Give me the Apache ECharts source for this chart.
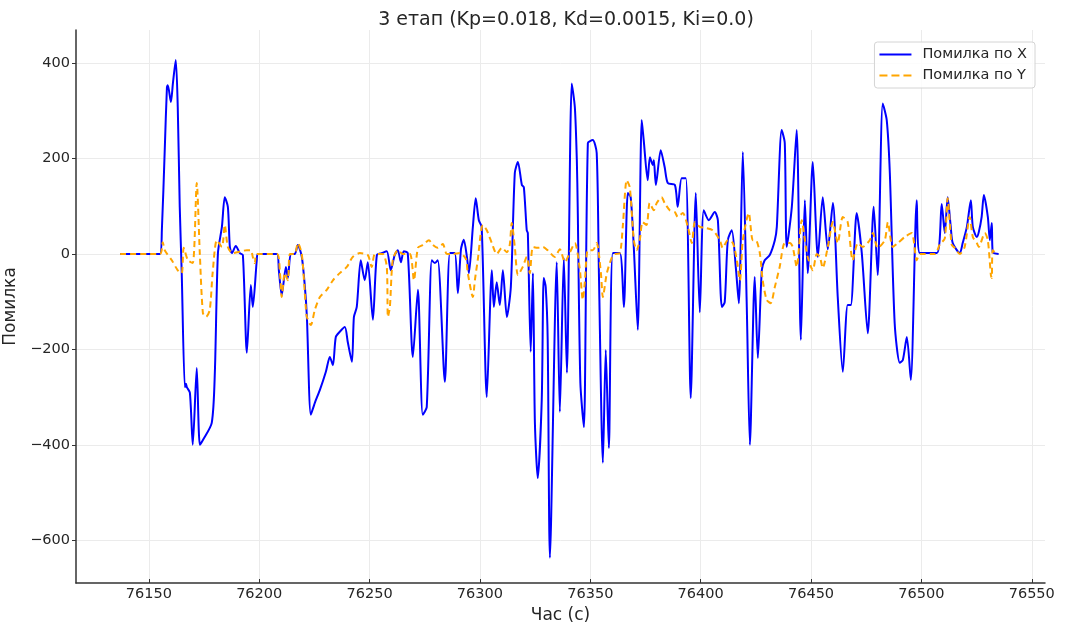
<!DOCTYPE html>
<html>
<head>
<meta charset="utf-8">
<script src="https://cdn.jsdelivr.net/npm/echarts@6/dist/echarts.min.js"></script>
<style>
  html, body { margin: 0; padding: 0; background: #fff; }
  #chart { width: 1071px; height: 626px; }
</style>
</head>
<body>
<div id="chart"></div>
<script>
// Stage 3 PID run: tracking error along X and Y over time
const titleText = '3 етап (Kp=0.018, Kd=0.0015, Ki=0.0)';
const seriesNames = ['Помилка по X', 'Помилка по Y'];

const xTicks = [76150, 76200, 76250, 76300, 76350, 76400, 76450, 76500, 76550];
const yTicks = [-600, -400, -200, 0, 200, 400];

// Error along X
const errXTime = [
  76137, 76155.0, 76155.9, 76157.2, 76158.2, 76158.6, 76160.0, 76160.9, 76162.2, 76163.1,
  76164.0, 76164.9, 76166.3, 76166.8, 76167.2, 76168.6, 76169.9, 76171.7, 76173.1, 76174.5,
  76178.5, 76179.9, 76181.3, 76183.1, 76184.4, 76185.8, 76186.7, 76187.6, 76189.4, 76191.2,
  76192.6, 76194.4, 76196.2, 76197.1, 76198.9, 76199.4, 76208.0, 76208.9, 76210.2, 76212.1,
  76213.0, 76214.3, 76216.1, 76217.5, 76219.3, 76220.7, 76221.6, 76223.4, 76225.2, 76227.5,
  76230.2, 76232.0, 76233.4, 76234.7, 76236.5, 76238.8, 76240.1, 76242.0, 76242.9, 76244.2,
  76246.0, 76247.8, 76249.2, 76251.5, 76253.3, 76255.5, 76257.8, 76259.6, 76261.4, 76262.8,
  76264.2, 76265.5, 76267.3, 76269.6, 76271.9, 76274.1, 76275.9, 76278.2, 76279.6, 76280.9,
  76284.1, 76286.4, 76288.6, 76290.0, 76291.4, 76292.7, 76294.1, 76295.0, 76296.8, 76298.1,
  76299.5, 76300.8, 76303.1, 76305.4, 76306.3, 76307.6, 76309.0, 76310.4, 76312.2, 76314.0,
  76315.8, 76317.2, 76319.0, 76319.9, 76321.2, 76321.7, 76323.0, 76324.0, 76324.9, 76326.2,
  76328.0, 76328.9, 76329.8, 76330.7, 76331.7, 76334.8, 76336.2, 76338.0, 76339.4, 76341.6,
  76343.0, 76343.9, 76344.3, 76345.5, 76347.1, 76348.9, 76351.1, 76352.9, 76353.9, 76355.7,
  76357.0, 76358.4, 76360.2, 76363.4, 76365.2, 76367.0, 76368.3, 76369.7, 76371.5, 76373.3,
  76374.2, 76376.0, 76377.0, 76378.3, 76378.8, 76379.7, 76381.9, 76383.7, 76385.1, 76388.3,
  76389.6, 76391.4, 76393.3, 76395.5, 76397.8, 76399.6, 76401.4, 76403.7, 76406.4, 76407.8,
  76409.6, 76410.9, 76412.3, 76414.1, 76415.9, 76417.3, 76419.1, 76420.9, 76422.3, 76424.5,
  76425.9, 76427.7, 76429.0, 76431.3, 76433.6, 76434.5, 76436.7, 76438.1, 76439.0, 76441.3,
  76443.5, 76445.4, 76447.2, 76448.5, 76450.8, 76453.1, 76455.3, 76457.6, 76459.9, 76462.1,
  76464.4, 76466.6, 76468.0, 76470.7, 76473.0, 76475.7, 76478.4, 76480.2, 76482.5, 76484.3,
  76485.7, 76487.9, 76490.2, 76491.6, 76493.4, 76495.2, 76497.9, 76499.3, 76507.0, 76509.2,
  76510.6, 76511.9, 76513.3, 76514.2, 76517.4, 76518.7, 76520.6, 76522.4, 76523.3, 76525.1,
  76526.0, 76527.3, 76528.3, 76530.1, 76531.0, 76531.9, 76532.3, 76535.0
];
const errXValue = [
  0, 0, 50, 218, 350, 354, 319, 358, 407, 308,
  99, -40, -279, -272, -279, -291, -400, -239, -400, -390,
  -354, -249, 2, 57, 119, 99, 15, 2, 17, 2,
  -2, -207, -65, -111, -13, 0, 0, -34, -86, -27,
  -50, 0, 0, 19, -6, -69, -132, -337, -312, -285,
  -247, -216, -233, -174, -163, -153, -184, -226, -132, -111,
  -13, -55, -17, -138, -2, 2, 6, -34, -2, 8,
  -17, 6, 2, -216, -75, -337, -321, -13, -19, -13,
  -268, 2, 2, -82, 10, 30, -6, -40, 57, 117,
  71, 57, -300, -34, -111, -59, -107, -34, -132, -69,
  170, 193, 145, 140, 50, 44, -205, -40, -354, -470,
  -306, -50, -69, -180, -637, -17, -331, -8, -249, 358,
  308, 197, 99, -270, -363, 233, 239, 212, -40, -438,
  -201, -407, 2, 2, -111, 128, 119, 15, -159, 281,
  239, 155, 203, 187, 197, 145, 218, 182, 149, 145,
  99, 159, 159, -302, 128, -122, 92, 71, 88, 71,
  -111, -101, 29, 50, -27, -103, 214, -111, -400, -48,
  -218, -34, -13, -2, 29, 57, 260, 233, 15, 99,
  260, -180, 113, -40, 193, -6, 119, 10, 107, -90,
  -247, -107, -107, 86, 2, -166, 99, -44, 316, 281,
  170, -145, -228, -222, -174, -264, 113, 2, 2, 105,
  44, 119, 57, 23, 2, 23, 57, 113, 57, 36,
  46, 78, 124, 78, 29, 65, 4, 0
];

// Error along Y
const errYTime = [
  76137, 76155.0, 76156.3, 76157.2, 76160.4, 76163.1, 76164.9, 76165.8, 76167.7, 76169.9,
  76171.7, 76173.1, 76174.5, 76175.9, 76177.6, 76178.9, 76180.8, 76183.1, 76184.4, 76185.8,
  76188.0, 76194.4, 76196.2, 76197.1, 76198.0, 76198.9, 76208.0, 76209.4, 76210.2, 76211.6,
  76213.0, 76213.9, 76216.1, 76217.5, 76219.3, 76221.1, 76221.6, 76223.4, 76225.2, 76227.5,
  76230.6, 76233.4, 76236.5, 76239.7, 76242.4, 76245.6, 76249.2, 76251.0, 76252.4, 76256.0,
  76257.8, 76258.3, 76259.2, 76260.5, 76262.8, 76265.1, 76268.3, 76270.1, 76271.9, 76274.1,
  76276.9, 76278.7, 76280.9, 76283.2, 76285.0, 76287.7, 76290.9, 76293.6, 76294.5, 76296.8,
  76297.7, 76299.0, 76301.3, 76303.1, 76305.4, 76307.6, 76309.9, 76312.2, 76313.5, 76314.4,
  76315.8, 76317.2, 76319.4, 76321.2, 76322.6, 76324.0, 76326.2, 76328.5, 76330.7, 76333.9,
  76336.2, 76338.5, 76340.8, 76343.0, 76345.2, 76346.6, 76347.5, 76348.9, 76351.1, 76352.9,
  76354.8, 76355.7, 76357.5, 76359.7, 76361.1, 76363.4, 76364.7, 76366.5, 76367.9, 76369.7,
  76371.0, 76372.4, 76373.7, 76375.5, 76376.9, 76378.8, 76380.1, 76382.3, 76383.7, 76386.0,
  76388.3, 76389.6, 76391.9, 76394.2, 76396.0, 76397.4, 76399.6, 76401.9, 76405.5, 76408.7,
  76410.0, 76412.3, 76414.6, 76416.4, 76417.8, 76419.1, 76421.8, 76423.6, 76425.0, 76426.8,
  76428.1, 76429.9, 76431.7, 76433.6, 76435.8, 76438.1, 76440.4, 76441.7, 76443.5, 76445.8,
  76447.2, 76448.5, 76450.8, 76452.6, 76454.0, 76455.3, 76457.6, 76459.9, 76462.1, 76464.4,
  76466.6, 76468.9, 76471.2, 76473.4, 76476.6, 76478.0, 76480.2, 76483.4, 76484.8, 76487.0,
  76489.3, 76492.5, 76495.6, 76497.9, 76499.3, 76506.1, 76508.3, 76510.6, 76511.9, 76513.7,
  76515.1, 76517.4, 76519.6, 76521.9, 76523.3, 76525.1, 76526.0, 76528.7, 76530.1, 76531.5,
  76531.9, 76532.3, 76534.1
];
const errYValue = [
  0, 0, 25, 8, -13, -34, -40, 13, -13, -19,
  149, 0, -124, -132, -117, -40, 29, 15, 61, 15,
  2, 8, 8, -6, -19, 0, 0, -40, -90, -40,
  -55, 0, 0, 23, 0, -111, -132, -149, -117, -90,
  -75, -55, -40, -27, -6, 2, -2, -27, 0, 0,
  -27, -132, -111, -13, 8, 0, 0, -55, 13, 19,
  29, 19, 13, 21, 0, 0, 2, -10, -40, -90,
  -55, -13, 61, 50, 23, 0, 13, 4, 19, 65,
  15, -44, -27, -6, -40, 15, 13, 15, 8, -6,
  10, -17, 4, 23, -30, -96, -60, 8, 8, 23,
  -40, -90, -40, -8, 0, 2, 57, 155, 140, 29,
  8, 29, 67, 61, 107, 92, 107, 119, 107, 92,
  88, 78, 86, 57, 23, 67, 57, 55, 50, 29,
  13, 29, 23, -13, -55, 29, 86, 29, 29, 2,
  -55, -96, -103, -69, -27, 23, 23, 15, -27, 71,
  29, -6, -34, 0, -6, -29, 15, 67, 23, 78,
  67, -13, 23, 15, 29, 44, 13, 29, 67, 15,
  23, 36, 44, -13, 0, 0, 20, 33, 117, 20,
  13, 0, 15, 78, 36, 23, 15, 44, 29, -45,
  -50, 8, 0
];

const zip = (ts, vs) => ts.map((t, i) => [t, vs[i]]);
const minus = v => String(v).replace('-', '\u2212');

const textColor = '#262626';
const spineColor = '#333333';
const gridColor = '#ebebeb';
const fontFamily = 'DejaVu Sans';
const colorX = '#0000ff';
const colorY = '#ffa500';

// legend samples: a solid stroke and a three-dash stroke
const solidIcon = 'path://M0,0H32V2H0Z';
const dashIcon = 'path://M0,0H8V2H0Z M12,0H20V2H12Z M24,0H32V2H24Z';

const chart = echarts.init(document.getElementById('chart'), null, { renderer: 'canvas' });

chart.setOption({
  animation: false,
  backgroundColor: '#ffffff',
  textStyle: { fontFamily: fontFamily },
  title: {
    text: titleText,
    left: 561,
    top: 6,
    textAlign: 'center',
    textStyle: { fontFamily: fontFamily, fontSize: 19, fontWeight: 'normal', color: textColor }
  },
  legend: {
    orient: 'vertical',
    right: 36,
    top: 42,
    itemWidth: 32,
    itemHeight: 2,
    itemGap: 6,
    padding: [5, 8, 5, 5],
    borderColor: '#d4d4d4',
    borderWidth: 1,
    borderRadius: 3,
    backgroundColor: 'rgba(255,255,255,0.85)',
    textStyle: { fontFamily: fontFamily, fontSize: 14.5, color: textColor, padding: [0, 0, 0, 6] },
    data: [
      { name: seriesNames[0], icon: solidIcon, itemStyle: { color: colorX } },
      { name: seriesNames[1], icon: dashIcon, itemStyle: { color: colorY } }
    ]
  },
  grid: { left: 76, right: 26, top: 30, bottom: 43, containLabel: false, outerBoundsMode: 'none' },
  xAxis: {
    type: 'value',
    min: 76117,
    max: 76556,
    name: 'Час (с)',
    nameLocation: 'middle',
    nameGap: 21,
    nameTextStyle: { fontFamily: fontFamily, fontSize: 17, color: textColor },
    axisLine: { show: true, onZero: false, lineStyle: { color: spineColor, width: 1.5 } },
    axisTick: { show: true, inside: true, length: 4, customValues: xTicks, lineStyle: { color: spineColor } },
    axisLabel: { customValues: xTicks, margin: 4, fontSize: 14.5, color: textColor, formatter: v => String(v) },
    splitLine: { show: true, lineStyle: { color: gridColor, width: 1 } }
  },
  yAxis: {
    type: 'value',
    min: -690,
    max: 470,
    name: 'Помилка',
    nameLocation: 'middle',
    nameGap: 50,
    nameTextStyle: { fontFamily: fontFamily, fontSize: 17, color: textColor },
    axisLine: { show: true, onZero: false, lineStyle: { color: spineColor, width: 1.5 } },
    axisTick: { show: true, inside: false, length: 4, customValues: yTicks, lineStyle: { color: spineColor } },
    axisLabel: { customValues: yTicks, margin: 6, fontSize: 14.5, color: textColor, formatter: minus },
    splitLine: { show: true, lineStyle: { color: gridColor, width: 1 } }
  },
  series: [
    {
      name: seriesNames[0],
      type: 'line',
      data: zip(errXTime, errXValue),
      showSymbol: false,
      symbol: 'none',
      smooth: 0.25,
      lineStyle: { color: colorX, width: 2 },
      itemStyle: { color: colorX },
      z: 3
    },
    {
      name: seriesNames[1],
      type: 'line',
      data: zip(errYTime, errYValue),
      showSymbol: false,
      symbol: 'none',
      smooth: 0.25,
      lineStyle: { color: colorY, width: 2, type: [6, 4] },
      itemStyle: { color: colorY },
      z: 4
    }
  ]
});
</script>
</body>
</html>
